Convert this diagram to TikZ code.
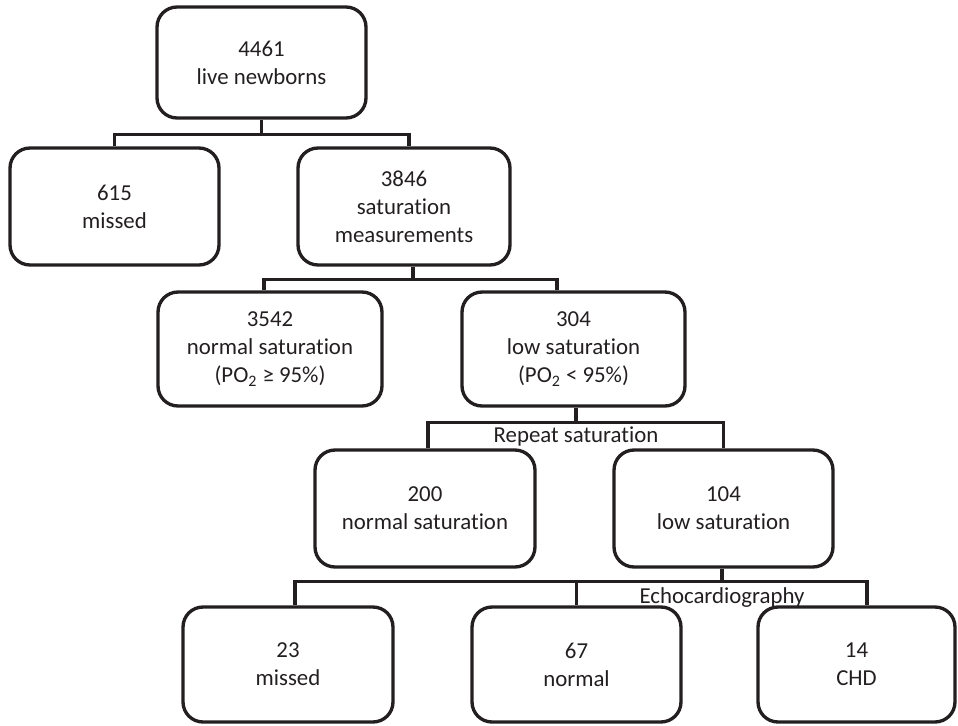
\documentclass[tikz,border=0pt]{standalone}
\usepackage{fontspec}
\setmainfont{Carlito}[Ligatures=NoCommon]
\usetikzlibrary{positioning}
\definecolor{ink}{HTML}{231F20}
\tikzset{
  flowbox/.style={draw=ink, text=ink, rounded corners=0.4cm, line width=1.9pt, align=center, inner sep=2pt, font=\fontsize{13}{16}\selectfont},
  link/.style={draw=ink, line width=1.9pt},
  steplabel/.style={text=ink, inner sep=1pt, font=\fontsize{13}{16}\selectfont}
}

\begin{document}
\begin{tikzpicture}[x=0.02cm, y=-0.02cm]
\useasboundingbox (0,0) rectangle (958,725);
% boxes, centres in pixels of the original
\node[flowbox, minimum width=4.18cm, minimum height=2.22cm] (born) at (261.5,62.5) {4461\\live newborns};
\node[flowbox, minimum width=4.18cm, minimum height=2.34cm] (miss1) at (114.5,206.5) {615\\missed};
\node[flowbox, minimum width=4.24cm, minimum height=2.34cm] (meas) at (404,206.5) {3846\\saturation\\measurements};
\node[flowbox, minimum width=4.48cm, minimum height=2.28cm] (norm1) at (270,349) {3542\\normal saturation\\(PO\textsubscript{2} ≥ 95\%)};
\node[flowbox, minimum width=4.46cm, minimum height=2.28cm] (low1) at (573.5,349) {304\\low saturation\\(PO\textsubscript{2} < 95\%)};
\node[flowbox, minimum width=4.40cm, minimum height=2.34cm] (norm2) at (425,508.5) {200\\normal saturation};
\node[flowbox, minimum width=4.38cm, minimum height=2.34cm] (low2) at (723.5,508.5) {104\\low saturation};
\node[flowbox, minimum width=4.20cm, minimum height=2.30cm] (miss2) at (288,664.5) {23\\missed};
\node[flowbox, minimum width=4.18cm, minimum height=2.30cm] (norm3) at (576.5,664.5) {67\\normal};
\node[flowbox, minimum width=3.94cm, minimum height=2.30cm] (chd) at (856.5,664.5) {14\\CHD};
% connectors
\draw[link] (born.south) -- ++(0,15) coordinate (j1);
\draw[link] (miss1.north) |- (j1) -| ([xshift=0.1cm]meas.north);
\draw[link] ([xshift=0.18cm]meas.south) -- ++(0,13) coordinate (j2);
\draw[link] ([xshift=-0.12cm]norm1.north) |- (j2) -| ([xshift=-0.33cm]low1.north);
\draw[link] ([xshift=0.05cm]low1.south) -- ++(0,15) coordinate (j3);
\draw[link] ([xshift=0.06cm]norm2.north) |- (j3) -| (low2.north);
\draw[link] ([xshift=-0.03cm]low2.south) -- ++(0,13) coordinate (j4);
\draw[link] ([xshift=0.14cm]miss2.north) |- (j4) -| ([xshift=0.21cm]chd.north);
\draw[link] (j4 -| norm3.north) -- (norm3.north);
% step labels
\node[steplabel, below=1pt of j3] (rep) {Repeat saturation};
\node[steplabel, below=2pt of j4] (echo) {Echocardiography};
\end{tikzpicture}
\end{document}
